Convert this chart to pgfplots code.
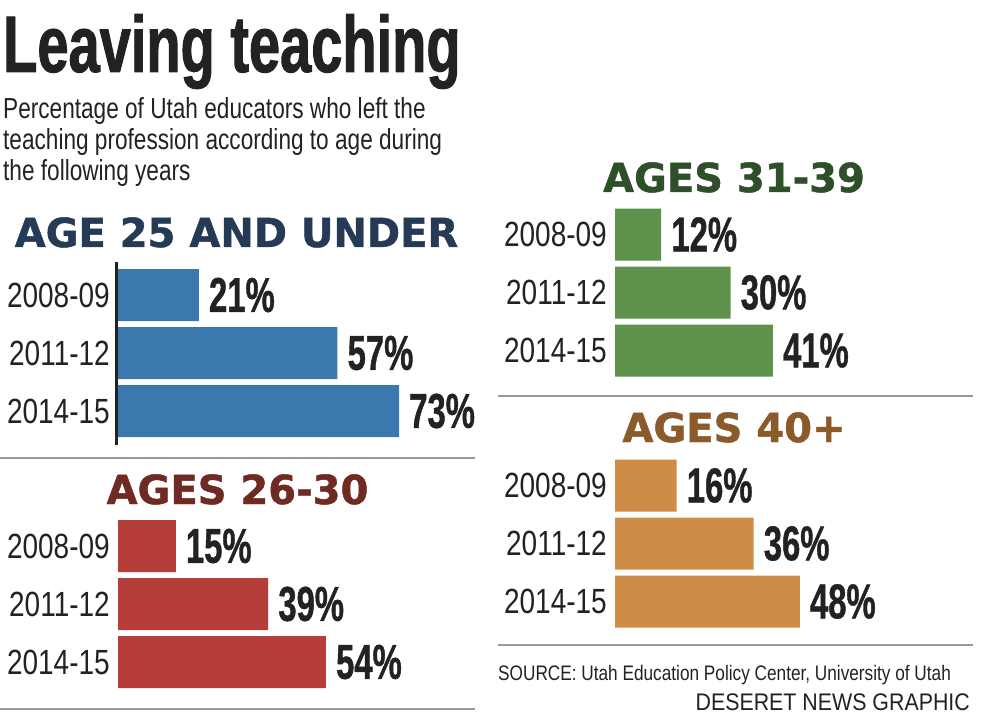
\documentclass[border=0pt]{standalone}
\usepackage{fontspec}
\setmainfont{Liberation Sans}
\usepackage{pgfplots}
\pgfplotsset{compat=1.18}
\newfontfamily\titlefont[FakeStretch=0.70, BoldFeatures={FakeBold=1.2}]{Liberation Sans}
\newfontfamily\subfont[FakeStretch=0.78]{Liberation Sans}
\newfontfamily\tickfont[FakeStretch=0.8]{Liberation Sans}
\newfontfamily\valfont[FakeStretch=0.67, BoldFeatures={FakeBold=0.8}]{Liberation Sans}
\newfontfamily\headfont[BoldFeatures={FakeBold=1.2}]{DejaVu Sans}
\newfontfamily\srcfont[FakeStretch=0.82]{Liberation Sans}
\newfontfamily\credfont[FakeStretch=0.89]{Liberation Sans}
\definecolor{bblue}{HTML}{3A78AD}
\definecolor{bred}{HTML}{B53D3A}
\definecolor{bgreen}{HTML}{5E914B}
\definecolor{borange}{HTML}{CF8C47}
\definecolor{tnavy}{HTML}{253B55}
\definecolor{tmaroon}{HTML}{6E2A23}
\definecolor{tgreen}{HTML}{2F4F2A}
\definecolor{tbrown}{HTML}{8A5A2B}
\definecolor{sepgray}{HTML}{9A9A9A}
\definecolor{txt}{HTML}{222222}
\pgfplotsset{panel/.style={
  xbar, scale only axis, width=385pt, height=174pt,
  xmin=0, xmax=100, ymin=-0.5, ymax=2.5, y dir=reverse,
  bar width=52pt, bar shift=0pt,
  hide x axis, axis y line*=left, y axis line style={draw=none},
  major tick length=0pt,
  ytick={0,1,2}, yticklabels={2008-09,2011-12,2014-15},
  yticklabel style={font=\tickfont\fontsize{35}{35}\selectfont, text=txt, inner sep=0pt, xshift=-8pt},
  point meta=x,
  /pgf/number format/assume math mode=true,
  nodes near coords={\pgfmathprintnumber[assume math mode=true]{\pgfplotspointmeta}\%},
  nodes near coords style={font=\valfont\bfseries\fontsize{49}{49}\selectfont, text=txt, inner sep=0pt, anchor=west, xshift=10pt},
  clip=false, anchor=south west}}
\begin{document}
\begin{tikzpicture}
\path[use as bounding box] (0pt,0pt) rectangle (1008pt,726pt);
% header
\node[anchor=base west, inner sep=0pt, text=txt, font=\titlefont\bfseries\fontsize{80}{80}\selectfont] at (3pt,654pt) {Leaving teaching};
\node[anchor=base west, inner sep=0pt, text=txt, font=\subfont\fontsize{29}{29}\selectfont] at (3pt,607pt) {Percentage of Utah educators who left the};
\node[anchor=base west, inner sep=0pt, text=txt, font=\subfont\fontsize{29}{29}\selectfont] at (3pt,576pt) {teaching profession according to age during};
\node[anchor=base west, inner sep=0pt, text=txt, font=\subfont\fontsize{29}{29}\selectfont] at (3pt,545pt) {the following years};
% separators
\draw[sepgray, line width=2.5pt] (0pt,268pt) -- (475pt,268pt);
\draw[sepgray, line width=2.5pt] (0pt,17pt) -- (475pt,17pt);
\draw[sepgray, line width=2.5pt] (498pt,330pt) -- (973pt,330pt);
\draw[sepgray, line width=2.5pt] (498pt,81pt) -- (973pt,81pt);
% section titles
\node[anchor=base, inner sep=0pt, text=tnavy, font=\headfont\bfseries\fontsize{40}{40}\selectfont] at (236.5pt,479pt) {AGE 25 AND UNDER};
\node[anchor=base, inner sep=0pt, text=tmaroon, font=\headfont\bfseries\fontsize{40}{40}\selectfont] at (237.5pt,222pt) {AGES 26-30};
\node[anchor=base, inner sep=0pt, text=tgreen, font=\headfont\bfseries\fontsize{40}{40}\selectfont] at (734pt,534pt) {AGES 31-39};
\node[anchor=base, inner sep=0pt, text=tbrown, font=\headfont\bfseries\fontsize{40}{40}\selectfont] at (734pt,284pt) {AGES 40+};
% panel 1
\begin{axis}[panel, at={(118pt,286pt)}]
\addplot[fill=bblue, draw=none] coordinates {(21,0) (57,1) (73,2)};
\draw[line width=3.5pt, txt] ([xshift=-1.5pt]axis cs:0,-0.57) -- ([xshift=-1.5pt]axis cs:0,2.59);
\end{axis}
% panel 2
\begin{axis}[panel, at={(118pt,35pt)}]
\addplot[fill=bred, draw=none] coordinates {(15,0) (39,1) (54,2)};
\end{axis}
% panel 3
\begin{axis}[panel, at={(615pt,346.5pt)}]
\addplot[fill=bgreen, draw=none] coordinates {(12,0) (30,1) (41,2)};
\end{axis}
% panel 4
\begin{axis}[panel, at={(615pt,95.5pt)}]
\addplot[fill=borange, draw=none] coordinates {(16,0) (36,1) (48,2)};
\end{axis}
% source
\node[anchor=base west, inner sep=0pt, text=txt, font=\srcfont\fontsize{21}{21}\selectfont] at (498pt,46pt) {SOURCE: Utah Education Policy Center, University of Utah};
\node[anchor=base east, inner sep=0pt, text=txt, font=\credfont\fontsize{24}{24}\selectfont] at (970pt,16pt) {DESERET NEWS GRAPHIC};
\end{tikzpicture}
\end{document}
